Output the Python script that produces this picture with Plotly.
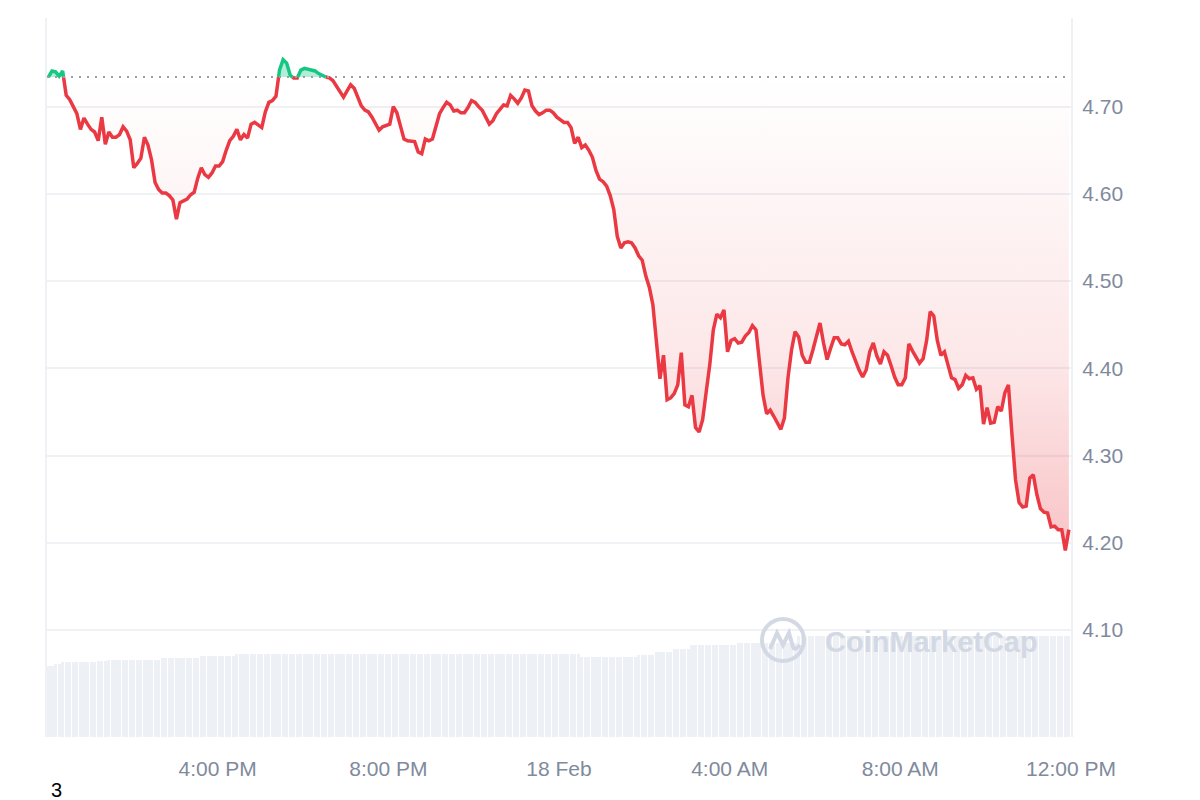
import numpy as np
import pandas as pd
import plotly.graph_objects as go

# ---------------- data ----------------
times = pd.date_range("2025-02-17 12:02", periods=288, freq="5min")

prices = [
    4.734, 4.741, 4.740, 4.735, 4.741, 4.713, 4.708, 4.700, 4.692, 4.674, 4.687, 4.680,
    4.674, 4.671, 4.661, 4.688, 4.657, 4.671, 4.665, 4.665, 4.668, 4.677, 4.672, 4.662,
    4.630, 4.635, 4.641, 4.665, 4.656, 4.639, 4.613, 4.605, 4.601, 4.601, 4.598, 4.593,
    4.571, 4.590, 4.592, 4.594, 4.599, 4.602, 4.618, 4.630, 4.622, 4.619, 4.624, 4.632,
    4.632, 4.637, 4.650, 4.661, 4.666, 4.674, 4.662, 4.668, 4.664, 4.680, 4.682, 4.679,
    4.676, 4.694, 4.705, 4.707, 4.712, 4.742, 4.754, 4.750, 4.736, 4.733, 4.733, 4.742,
    4.744, 4.743, 4.743, 4.741, 4.738, 4.736, 4.734, 4.733, 4.730, 4.724, 4.717, 4.711,
    4.718, 4.725, 4.721, 4.710, 4.701, 4.696, 4.694, 4.688, 4.680, 4.673, 4.677, 4.679,
    4.680, 4.700, 4.693, 4.678, 4.663, 4.661, 4.660, 4.660, 4.648, 4.646, 4.663, 4.661,
    4.663, 4.679, 4.692, 4.699, 4.705, 4.702, 4.695, 4.696, 4.693, 4.693, 4.699, 4.707,
    4.705, 4.700, 4.696, 4.688, 4.680, 4.684, 4.692, 4.697, 4.702, 4.701, 4.713, 4.709,
    4.704, 4.710, 4.719, 4.718, 4.701, 4.695, 4.691, 4.693, 4.696, 4.696, 4.693, 4.688,
    4.685, 4.682, 4.682, 4.676, 4.658, 4.665, 4.653, 4.656, 4.650, 4.642, 4.627, 4.617,
    4.614, 4.609, 4.598, 4.582, 4.551, 4.538, 4.544, 4.545, 4.544, 4.538, 4.529, 4.524,
    4.506, 4.493, 4.473, 4.432, 4.388, 4.415, 4.364, 4.366, 4.371, 4.381, 4.418, 4.358,
    4.356, 4.369, 4.332, 4.327, 4.341, 4.373, 4.404, 4.444, 4.462, 4.458, 4.467, 4.419,
    4.432, 4.434, 4.429, 4.430, 4.437, 4.441, 4.449, 4.444, 4.407, 4.369, 4.348, 4.352,
    4.345, 4.337, 4.330, 4.343, 4.389, 4.421, 4.442, 4.436, 4.415, 4.407, 4.407, 4.421,
    4.438, 4.452, 4.429, 4.410, 4.423, 4.435, 4.435, 4.428, 4.427, 4.431, 4.419, 4.408,
    4.398, 4.390, 4.398, 4.419, 4.429, 4.414, 4.405, 4.419, 4.415, 4.403, 4.390, 4.381,
    4.381, 4.389, 4.428, 4.420, 4.413, 4.406, 4.411, 4.432, 4.465, 4.460, 4.432, 4.415,
    4.419, 4.402, 4.389, 4.387, 4.377, 4.381, 4.392, 4.388, 4.389, 4.376, 4.380, 4.336,
    4.355, 4.337, 4.338, 4.356, 4.351, 4.372, 4.381, 4.324, 4.272, 4.246, 4.241, 4.242,
    4.274, 4.278, 4.255, 4.239, 4.235, 4.234, 4.218, 4.219, 4.215, 4.215, 4.191, 4.215,
]

# 24h volume (relative units), read level by level from the bars
volume = ([71] * 2 + [73] * 2 + [75] * 10 + [76] * 3 + [77] * 15 + [79] * 11 +
          [81] * 10 + [83] * 97 + [80] * 16 + [82] * 5 + [85] * 5 + [88] * 5 +
          [92] * 13 + [94] * 17 + [101] * 77)

x_tick_vals = ["2025-02-17 16:00", "2025-02-17 20:00", "2025-02-18 00:00",
               "2025-02-18 04:00", "2025-02-18 08:00", "2025-02-18 12:00"]
x_tick_text = ["4:00 PM", "8:00 PM", "18 Feb", "4:00 AM", "8:00 AM", "12:00 PM"]
y_tick_vals = [4.10, 4.20, 4.30, 4.40, 4.50, 4.60, 4.70]
y_tick_text = ["4.10", "4.20", "4.30", "4.40", "4.50", "4.60", "4.70"]

# ---------------- styles ----------------
RED = "#ea3943"
GREEN = "#16c784"
TICK = "#808a9d"
GRID = "#eff1f4"
WM = "#d3d9e4"
FONT = "Liberation Sans, Arial, sans-serif"

base = prices[0]

# insert baseline crossings so the line can change colour exactly at the baseline
t_num = times.values.astype("datetime64[ns]").astype(np.int64).astype(float)
p_arr = np.array(prices, dtype=float)
xs, ys = [t_num[0]], [p_arr[0]]
for i in range(1, len(p_arr)):
    d0, d1 = p_arr[i - 1] - base, p_arr[i] - base
    if d0 * d1 < 0:
        f = d0 / (d0 - d1)
        xs.append(t_num[i - 1] + f * (t_num[i] - t_num[i - 1]))
        ys.append(base)
    xs.append(t_num[i])
    ys.append(p_arr[i])
xs = pd.to_datetime(np.array(xs).astype(np.int64))
ys = np.array(ys)

below = np.minimum(ys, base)
above = np.maximum(ys, base)
red_line = np.where(ys <= base, ys, np.nan)
green_line = np.where(ys >= base, ys, np.nan)
base_arr = np.full(len(ys), base)

fig = go.Figure()

# volume bars (bottom)
fig.add_trace(go.Bar(x=times, y=volume, yaxis="y2", width=260000,
                     marker=dict(color="#edf0f4", line_width=0),
                     hoverinfo="skip", showlegend=False))

# red area under baseline with gradient
fig.add_trace(go.Scatter(x=xs, y=base_arr, mode="lines", line=dict(width=0),
                         hoverinfo="skip", showlegend=False))
fig.add_trace(go.Scatter(
    x=xs, y=below, mode="lines", line=dict(width=0), fill="tonexty",
    fillgradient=dict(type="vertical", start=float(min(prices)), stop=base,
                      colorscale=[[0, "rgba(234,57,67,0.30)"],
                                  [0.4, "rgba(234,57,67,0.12)"],
                                  [1, "rgba(234,57,67,0.0)"]]),
    hoverinfo="skip", showlegend=False))

# green area above baseline
fig.add_trace(go.Scatter(x=xs, y=base_arr, mode="lines", line=dict(width=0),
                         hoverinfo="skip", showlegend=False))
fig.add_trace(go.Scatter(x=xs, y=above, mode="lines", line=dict(width=0),
                         fill="tonexty", fillcolor="rgba(22,199,132,0.32)",
                         hoverinfo="skip", showlegend=False))

# price line
fig.add_trace(go.Scatter(x=xs, y=red_line, mode="lines",
                         line=dict(color=RED, width=3.5), showlegend=False))
fig.add_trace(go.Scatter(x=xs, y=green_line, mode="lines",
                         line=dict(color=GREEN, width=3.5), showlegend=False))

# dotted baseline
fig.add_shape(type="line", xref="paper", yref="y", x0=0, x1=1, y0=base, y1=base,
              line=dict(color="#9a9ea6", width=2, dash="2px,6px"), layer="above")

# watermark logo + text
logo_x, logo_y = 0.71875, 0.1349
fig.add_shape(type="circle", xref="paper", yref="paper",
              xsizemode="pixel", ysizemode="pixel",
              xanchor=logo_x, yanchor=logo_y, x0=-21, x1=21, y0=-21, y1=21,
              line=dict(color=WM, width=4), layer="above")
fig.add_shape(type="path", xref="paper", yref="paper",
              xsizemode="pixel", ysizemode="pixel",
              xanchor=logo_x, yanchor=logo_y,
              path="M -13 -9 L -6 7 L 0 -5 L 6 7 L 10 -7 Q 12 -11 17 -5",
              line=dict(color=WM, width=4), layer="above")
fig.add_annotation(text="<b>CoinMarketCap</b>", xref="paper", yref="paper",
                   x=0.8633, y=0.1321, xanchor="center", yanchor="middle",
                   showarrow=False, font=dict(family=FONT, size=29, color=WM))

fig.add_annotation(text="3", xref="paper", yref="paper", x=0.0088, y=-0.0737,
                   xanchor="center", yanchor="middle", showarrow=False,
                   font=dict(family=FONT, size=20, color="#000000"))

# the page body has an 8px margin, so the figure is 1192x792 and margins are set
# to put the plot area at x 47..1071 and y 18..737 of the window
fig.update_layout(
    width=1192, height=792,
    margin=dict(l=39, r=129, t=10, b=63),
    paper_bgcolor="white", plot_bgcolor="white",
    showlegend=False, bargap=0,
    xaxis=dict(type="date", range=["2025-02-17 12:00", "2025-02-18 12:00"],
               tickvals=x_tick_vals, ticktext=x_tick_text,
               showgrid=False, zeroline=False, showline=False, ticks="",
               ticklabelstandoff=17,
               tickfont=dict(family=FONT, size=21, color=TICK)),
    yaxis=dict(side="right", range=[3.9772, 4.8017],
               tickvals=y_tick_vals, ticktext=y_tick_text,
               showgrid=True, gridcolor=GRID, gridwidth=1.5,
               showline=True, mirror=True, linecolor=GRID, linewidth=2,
               zeroline=False, ticks="", ticklabelstandoff=5,
               tickfont=dict(family=FONT, size=21, color=TICK)),
    yaxis2=dict(overlaying="y", range=[0, 719], visible=False),
)

fig.write_html("out.html")
